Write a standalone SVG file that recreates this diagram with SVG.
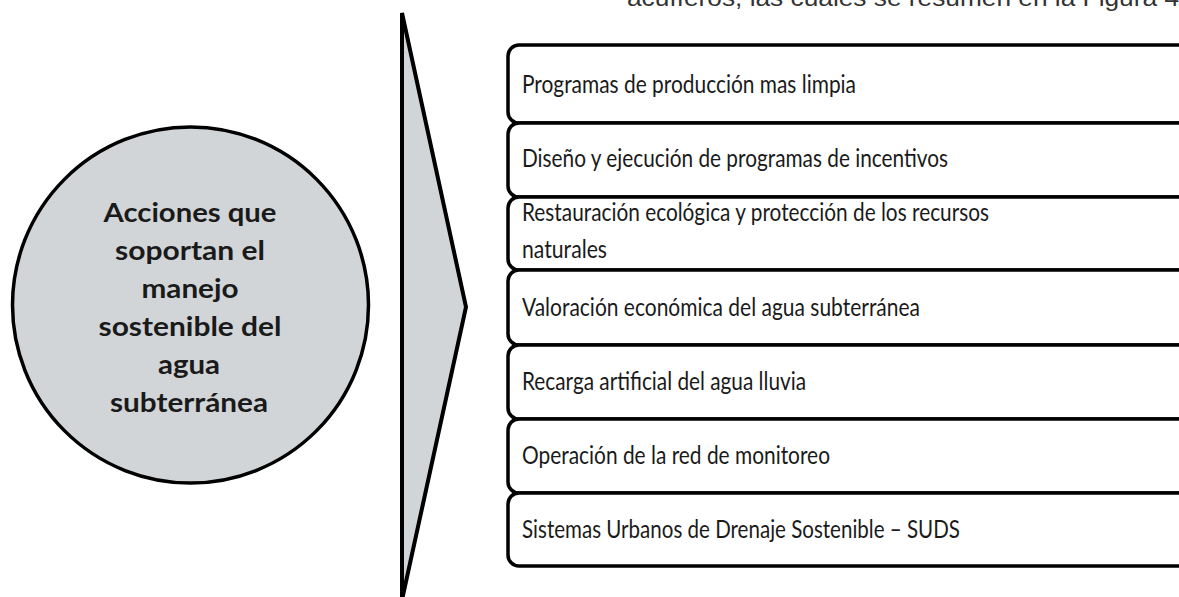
<svg xmlns="http://www.w3.org/2000/svg" width="1179" height="597" viewBox="0 0 1179 597">
  <style>
    .box { fill: #ffffff; stroke: #000000; stroke-width: 3.5; }
    .btxt { font-family: Lato, "Liberation Sans", sans-serif; font-size: 25px; fill: #1a1a1a; }
    .ctxt { font-family: Lato, "Liberation Sans", sans-serif; font-size: 26px; font-weight: bold; fill: #1a1a1a; text-anchor: middle; }
    .top { font-family: "Liberation Sans", Arial, sans-serif; font-size: 24px; fill: #333333; }
  </style>
  <rect width="1179" height="597" fill="#ffffff"/>
  <text class="top" x="627" y="6" textLength="552" lengthAdjust="spacingAndGlyphs">acuíferos, las cuales se resumen en la Figura 4</text>

  <g id="circle-node">
    <circle cx="190.5" cy="305" r="178" fill="#d1d5d7" stroke="#000000" stroke-width="3.5"/>
    <text class="ctxt" x="190" y="222" textLength="173" lengthAdjust="spacingAndGlyphs">Acciones que</text>
    <text class="ctxt" x="190" y="259.5" textLength="150" lengthAdjust="spacingAndGlyphs">soportan el</text>
    <text class="ctxt" x="190" y="297.5" textLength="97" lengthAdjust="spacingAndGlyphs">manejo</text>
    <text class="ctxt" x="190" y="335.5" textLength="183" lengthAdjust="spacingAndGlyphs">sostenible del</text>
    <text class="ctxt" x="189" y="373.5" textLength="62" lengthAdjust="spacingAndGlyphs">agua</text>
    <text class="ctxt" x="189" y="411.5" textLength="158" lengthAdjust="spacingAndGlyphs">subterránea</text>
  </g>

  <g id="connectors">
    <polygon id="chevron" points="402,13 466,307 402,600" fill="#d1d5d7" stroke="#000000" stroke-width="4" stroke-linejoin="miter"/>
  </g>

  <g id="box1">
    <rect class="box" x="508" y="45" width="690" height="78" rx="11"/>
    <text class="btxt" x="522" y="93" textLength="334" lengthAdjust="spacingAndGlyphs">Programas de producción mas limpia</text>
  </g>
  <g id="box2">
    <rect class="box" x="508" y="123" width="690" height="74" rx="11"/>
    <text class="btxt" x="522" y="167" textLength="426" lengthAdjust="spacingAndGlyphs">Diseño y ejecución de programas de incentivos</text>
  </g>
  <g id="box3">
    <rect class="box" x="508" y="197" width="690" height="73" rx="11"/>
    <text class="btxt" x="522" y="221" textLength="467" lengthAdjust="spacingAndGlyphs">Restauración ecológica y protección de los recursos</text>
    <text class="btxt" x="522" y="258" textLength="85" lengthAdjust="spacingAndGlyphs">naturales</text>
  </g>
  <g id="box4">
    <rect class="box" x="508" y="270" width="690" height="75" rx="11"/>
    <text class="btxt" x="522" y="316" textLength="398" lengthAdjust="spacingAndGlyphs">Valoración económica del agua subterránea</text>
  </g>
  <g id="box5">
    <rect class="box" x="508" y="345" width="690" height="74" rx="11"/>
    <text class="btxt" x="522" y="390" textLength="284" lengthAdjust="spacingAndGlyphs">Recarga artificial del agua lluvia</text>
  </g>
  <g id="box6">
    <rect class="box" x="508" y="419" width="690" height="74" rx="11"/>
    <text class="btxt" x="522" y="464" textLength="308" lengthAdjust="spacingAndGlyphs">Operación de la red de monitoreo</text>
  </g>
  <g id="box7">
    <rect class="box" x="508" y="493" width="690" height="73" rx="11"/>
    <text class="btxt" x="522" y="538" textLength="438" lengthAdjust="spacingAndGlyphs">Sistemas Urbanos de Drenaje Sostenible – SUDS</text>
  </g>
</svg>
